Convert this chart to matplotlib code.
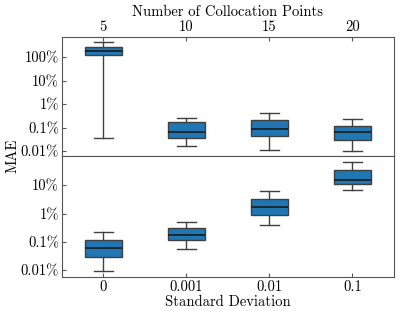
import matplotlib
matplotlib.use("Agg")
import matplotlib.pyplot as plt

plt.rcParams['font.family'] = 'serif'
plt.rcParams['font.serif'] = ['cmr10', 'DejaVu Serif']
plt.rcParams['mathtext.fontset'] = 'cm'
plt.rcParams['axes.formatter.use_mathtext'] = True
plt.rcParams['font.size'] = 10.5

# MAE as fraction (1.0 = 100%)
colloc_labels = ['5', '10', '15', '20']
colloc_lo = [3.5e-4, 1.6e-4, 1.1e-4, 1.0e-4]
colloc_q1 = [1.2, 3.5e-4, 4.4e-4, 3.0e-4]
colloc_med = [1.8, 6.4e-4, 8.7e-4, 6.4e-4]
colloc_q3 = [2.7, 1.7e-3, 2.1e-3, 1.15e-3]
colloc_hi = [4.3, 2.5e-3, 4.2e-3, 2.3e-3]

std_labels = ['0', '0.001', '0.01', '0.1']
std_lo = [9.0e-5, 5.5e-4, 3.9e-3, 0.066]
std_q1 = [2.9e-4, 1.15e-3, 8.7e-3, 0.11]
std_med = [5.9e-4, 1.7e-3, 1.7e-2, 0.15]
std_q3 = [1.15e-3, 3.0e-3, 3.2e-2, 0.34]
std_hi = [2.3e-3, 4.9e-3, 6.1e-2, 0.65]

top_ticks = [1e-4, 1e-3, 1e-2, 1e-1, 1]
top_tick_labels = ['0.01%', '0.1%', '1%', '10%', '100%']
bot_ticks = [1e-4, 1e-3, 1e-2, 1e-1]
bot_tick_labels = ['0.01%', '0.1%', '1%', '10%']

face = '#1f77b4'
edge = '#404040'


def make_stats(lo, q1, med, q3, hi):
    return [dict(whislo=a, q1=b, med=c, q3=d, whishi=e, fliers=[])
            for a, b, c, d, e in zip(lo, q1, med, q3, hi)]


def draw(ax, stats):
    ax.bxp(stats, positions=range(len(stats)), widths=0.45, patch_artist=True,
           showfliers=False,
           boxprops=dict(facecolor=face, edgecolor=edge, linewidth=1.0),
           medianprops=dict(color='#1a1a1a', linewidth=1.2),
           whiskerprops=dict(color=edge, linewidth=1.0),
           capprops=dict(color=edge, linewidth=1.0))
    ax.set_yscale('log')
    ax.set_xlim(-0.5, 3.5)
    ax.minorticks_off()
    for s in ax.spines.values():
        s.set_color('#555555')


fig = plt.figure(figsize=(4.15, 3.11), dpi=100)
ax1 = fig.add_axes([0.149, 0.498, 0.800, 0.383])
ax2 = fig.add_axes([0.149, 0.109, 0.800, 0.389])

draw(ax1, make_stats(colloc_lo, colloc_q1, colloc_med, colloc_q3, colloc_hi))
ax1.set_ylim(6.1e-5, 7.1)
ax1.set_yticks(top_ticks)
ax1.set_yticklabels(top_tick_labels)
ax1.minorticks_off()
ax1.set_xticks(range(4))
ax1.set_xticklabels(colloc_labels)
ax1.xaxis.tick_top()
ax1.xaxis.set_label_position('top')
ax1.set_xlabel('Number of Collocation Points', labelpad=3)
ax1.tick_params(direction='in', length=3, color='#555555', pad=2)

draw(ax2, make_stats(std_lo, std_q1, std_med, std_q3, std_hi))
ax2.set_ylim(5.7e-5, 1.06)
ax2.set_yticks(bot_ticks)
ax2.set_yticklabels(bot_tick_labels)
ax2.minorticks_off()
ax2.set_xticks(range(4))
ax2.set_xticklabels(std_labels)
ax2.set_xlabel('Standard Deviation', labelpad=1)
ax2.tick_params(direction='in', length=3, color='#555555', pad=2)

fig.text(0.03, 0.498, 'MAE', rotation=90, ha='center', va='center')

fig.savefig('out.png', dpi=100)
